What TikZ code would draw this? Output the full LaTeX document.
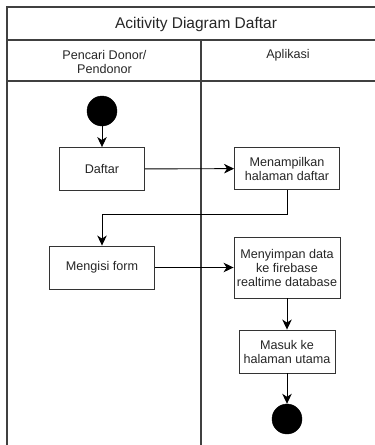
\documentclass[tikz,border=0pt]{standalone}
\usepackage{fontspec}
\setmainfont{Liberation Sans}
\usetikzlibrary{arrows.meta}
\begin{document}
\begin{tikzpicture}[x=1pt,y=-1pt,
  lane/.style={draw=black!75,line width=1.1pt},
  action/.style={draw=black!80,line width=0.9pt,fill=white,rectangle,inner sep=0pt,
    align=center,text=black!85,font=\fontsize{12.6}{14}\selectfont},
  label/.style={align=center,text=black!85,font=\fontsize{12.6}{14}\selectfont,inner sep=0pt},
  dot/.style={circle,fill=black,draw=black,minimum size=30pt,inner sep=0pt},
  flow/.style={draw=black,line width=0.9pt,-{Stealth[length=10pt,width=9.5pt,inset=3pt]}}]
\useasboundingbox (0,0) rectangle (375,445);
\begin{scope}
  \clip (0,0) rectangle (375,445);
  % swimlane frame (runs past the right and bottom edges)
  \draw[lane] (390,7) -- (7,7) -- (7,460);
  \draw[lane] (7,40) -- (390,40);
  \draw[lane] (7,81) -- (390,81);
  \draw[lane] (201,40) -- (201,460);
\end{scope}
\node[label,font=\fontsize{15.5}{18}\selectfont] (title) at (196,24) {Acitivity Diagram Daftar};
\node[label] (laneA) at (104.5,62) {Pencari Donor/\\Pendonor};
\node[label,anchor=center] (laneB) at (288,55) {Aplikasi};

\node[dot] (start) at (102,111) {};
\node[action,minimum width=85pt,minimum height=43pt] (daftar) at (102,169) {Daftar};
\node[action,minimum width=105pt,minimum height=42pt] (tampil) at (287,168.5) {Menampilkan\\halaman daftar};
\node[action,minimum width=105pt,minimum height=43pt] (isi) at (102,267.5) {Mengisi form};
\node[action,minimum width=106pt,minimum height=61pt] (simpan) at (287,267.5) {Menyimpan data\\ke firebase\\realtime database};
\node[action,minimum width=96pt,minimum height=43pt] (masuk) at (287,351.5) {Masuk ke\\halaman utama};
\node[dot] (end) at (287,419) {};
\coordinate (bend1) at (287,214);
\coordinate (bend2) at (102,214);

\draw[flow] (start) -- (daftar);
\draw[flow] (daftar) -- (tampil);
\draw[flow] (tampil.south) -- (bend1) -- (bend2) -- (isi.north);
\draw[flow] (isi) -- (simpan);
\draw[flow] (simpan) -- (masuk);
\draw[flow] (masuk) -- (end);
\end{tikzpicture}
\end{document}
